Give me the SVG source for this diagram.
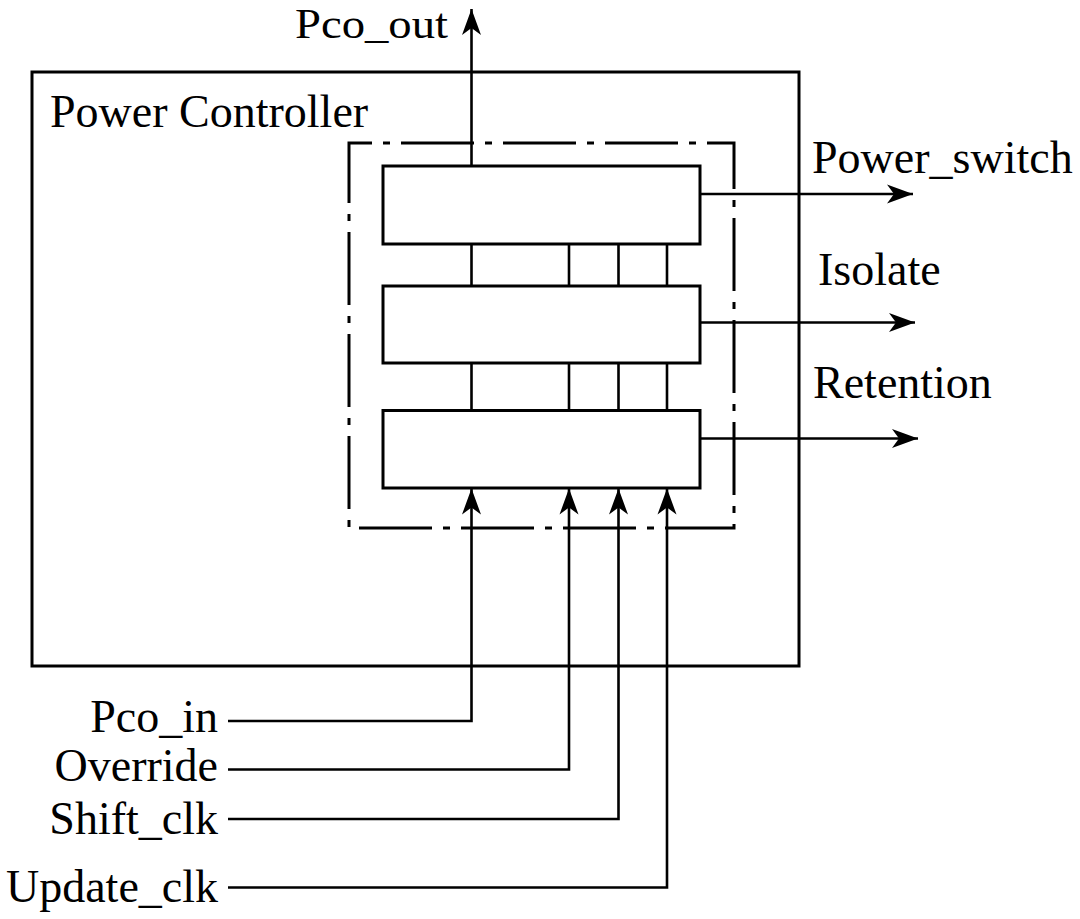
<svg xmlns="http://www.w3.org/2000/svg" width="1080" height="919" viewBox="0 0 1080 919">
  <style>
    .box { fill: #fff; stroke: #000; stroke-width: 3; }
    .frame { fill: none; stroke: #000; stroke-width: 3; }
    .dashframe { fill: none; stroke: #000; stroke-width: 3; stroke-dasharray: 73 11 7 11; stroke-dashoffset: 50; }
    .wire { fill: none; stroke: #000; stroke-width: 2.6; }
    .lbl { font-family: "Liberation Serif", "Times New Roman", serif; font-size: 46px; fill: #000; }
    .end { text-anchor: end; }
  </style>
  <defs>
    <marker id="arr" markerUnits="userSpaceOnUse" markerWidth="30" markerHeight="24" viewBox="-27 -12 30 24" refX="0" refY="0" orient="auto">
      <path d="M0,0 L-26,-9.5 L-19,0 L-26,9.5 Z" fill="#000"/>
    </marker>
  </defs>

  <g id="power-controller">
    <rect class="frame" x="32" y="72" width="767" height="594"/>
    <text class="lbl" x="50" y="127">Power Controller</text>
  </g>

  <g id="register-group">
    <rect class="dashframe" x="349" y="143" width="385" height="385"/>
  </g>

  <g id="connectors">
    <path class="wire" d="M471.5,244 V286 M569,244 V286 M618.5,244 V286 M667,244 V286"/>
    <path class="wire" d="M471.5,363 V410 M569,363 V410 M618.5,363 V410 M667,363 V410"/>
    <path class="wire" d="M471.5,166 V9" marker-end="url(#arr)"/>
    <path class="wire" d="M700,194 H913" marker-end="url(#arr)"/>
    <path class="wire" d="M700,322.5 H915" marker-end="url(#arr)"/>
    <path class="wire" d="M700,438.5 H918" marker-end="url(#arr)"/>
    <path class="wire" d="M228,721 H471.5 V488.5" marker-end="url(#arr)"/>
    <path class="wire" d="M228,769.5 H569 V488.5" marker-end="url(#arr)"/>
    <path class="wire" d="M228,819 H618.5 V488.5" marker-end="url(#arr)"/>
    <path class="wire" d="M228,887.5 H667 V488.5" marker-end="url(#arr)"/>
  </g>

  <g id="block-1">
    <rect class="box" x="383" y="166" width="317" height="78"/>
  </g>
  <g id="block-2">
    <rect class="box" x="383" y="286" width="317" height="77"/>
  </g>
  <g id="block-3">
    <rect class="box" x="383" y="410.5" width="317" height="77.5"/>
  </g>

  <g id="labels">
    <text class="lbl" x="295" y="38" style="font-size:42px" textLength="153" lengthAdjust="spacingAndGlyphs">Pco_out</text>
    <text class="lbl" x="812" y="173">Power_switch</text>
    <text class="lbl" x="818" y="285">Isolate</text>
    <text class="lbl" x="813" y="398">Retention</text>
    <text class="lbl end" x="218" y="732">Pco_in</text>
    <text class="lbl end" x="218" y="781">Override</text>
    <text class="lbl end" x="218" y="834">Shift_clk</text>
    <text class="lbl end" x="218" y="902">Update_clk</text>
  </g>
</svg>
